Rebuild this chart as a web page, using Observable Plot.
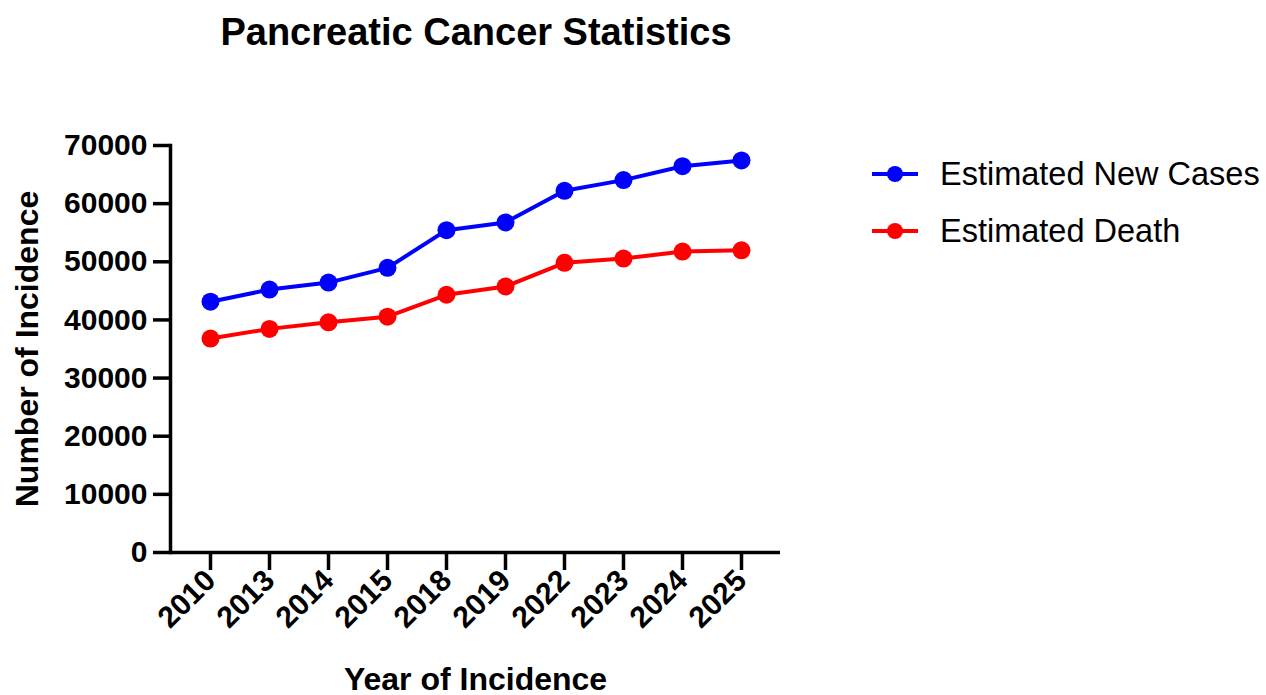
<!DOCTYPE html>
<html>
<head>
<meta charset="utf-8">
<script src="https://cdn.jsdelivr.net/npm/d3@7"></script>
<script src="https://cdn.jsdelivr.net/npm/@observablehq/plot@0.6"></script>
<style>
  html, body { margin: 0; padding: 0; background: #fff; }
  #wrap { position: relative; width: 1266px; height: 695px; font-family: "Liberation Sans", Arial, Helvetica, sans-serif; color: #000; overflow: hidden; }
  #title { position: absolute; left: 0; top: 10px; width: 952px; text-align: center; font-size: 38px; font-weight: bold; line-height: 44px; }
  #chart { position: absolute; left: 0; top: 70px; }
  #legend { position: absolute; left: 872px; top: 155px; }
  .row { display: flex; align-items: center; height: 38px; margin-bottom: 19px; font-size: 32.5px; white-space: nowrap; }
  .row svg { margin-right: 22px; }
</style>
</head>
<body>
<div id="wrap">
  <div id="title">Pancreatic Cancer Statistics</div>
  <div id="chart"></div>
  <div id="legend"></div>
</div>
<script>
const years = ["2010", "2013", "2014", "2015", "2018", "2019", "2022", "2023", "2024", "2025"];
const newCases = [43140, 45220, 46420, 48960, 55440, 56770, 62210, 64050, 66440, 67440];
const deaths = [36800, 38460, 39590, 40560, 44330, 45750, 49830, 50550, 51750, 51980];
const yTicks = [0, 10000, 20000, 30000, 40000, 50000, 60000, 70000];
const seriesNames = ["Estimated New Cases", "Estimated Death"];
const seriesColors = ["#0000ff", "#ff0000"];
const xTitle = "Year of Incidence";
const yTitle = "Number of Incidence";

const seriesValues = [newCases, deaths];
const data = seriesNames.flatMap((name, i) =>
  years.map((year, j) => ({ year, value: seriesValues[i][j], series: name }))
);

const font = "'Liberation Sans', Arial, Helvetica, sans-serif";

const chart = Plot.plot({
  width: 1266,
  height: 625,
  marginTop: 75,
  marginBottom: 143,
  marginLeft: 170,
  marginRight: 486,
  style: { fontFamily: font, color: "#000", background: "transparent", overflow: "visible" },
  x: { type: "point", domain: years, padding: 0.66 },
  y: { domain: [0, 70000] },
  color: { domain: seriesNames, range: seriesColors },
  marks: [
    Plot.axisY({ ticks: yTicks, tickSize: 17, tickPadding: 6, strokeWidth: 3.5, fontSize: 30, fontWeight: "bold", tickFormat: d => String(d), label: null }),
    Plot.axisY({ ticks: [], tickSize: 0, fontSize: 32, fontWeight: "bold", label: yTitle, labelArrow: "none", labelAnchor: "center", labelOffset: 155 }),
    Plot.axisX({ tickSize: 18, tickPadding: 5, tickRotate: -45, strokeWidth: 3.5, fontSize: 30, fontWeight: "bold", label: null }),
    Plot.axisX({ ticks: [], tickSize: 0, fontSize: 32, fontWeight: "bold", label: xTitle, labelArrow: "none", labelAnchor: "center", labelOffset: 137 }),
    Plot.ruleY([0], { strokeWidth: 3.5 }),
    Plot.frame({ anchor: "left", strokeWidth: 3.5 }),
    Plot.line(data, { x: "year", y: "value", z: "series", stroke: "series", strokeWidth: 4 }),
    Plot.dot(data, { x: "year", y: "value", fill: "series", r: 9 })
  ]
});
document.getElementById("chart").appendChild(chart);

const legend = document.getElementById("legend");
seriesNames.forEach((name, i) => {
  const row = document.createElement("div");
  row.className = "row";
  row.innerHTML = `<svg width="46" height="20"><line x1="0" y1="10" x2="46" y2="10" stroke="${seriesColors[i]}" stroke-width="4"/><circle cx="23" cy="10" r="8" fill="${seriesColors[i]}"/></svg><span>${name}</span>`;
  legend.appendChild(row);
});
</script>
</body>
</html>
